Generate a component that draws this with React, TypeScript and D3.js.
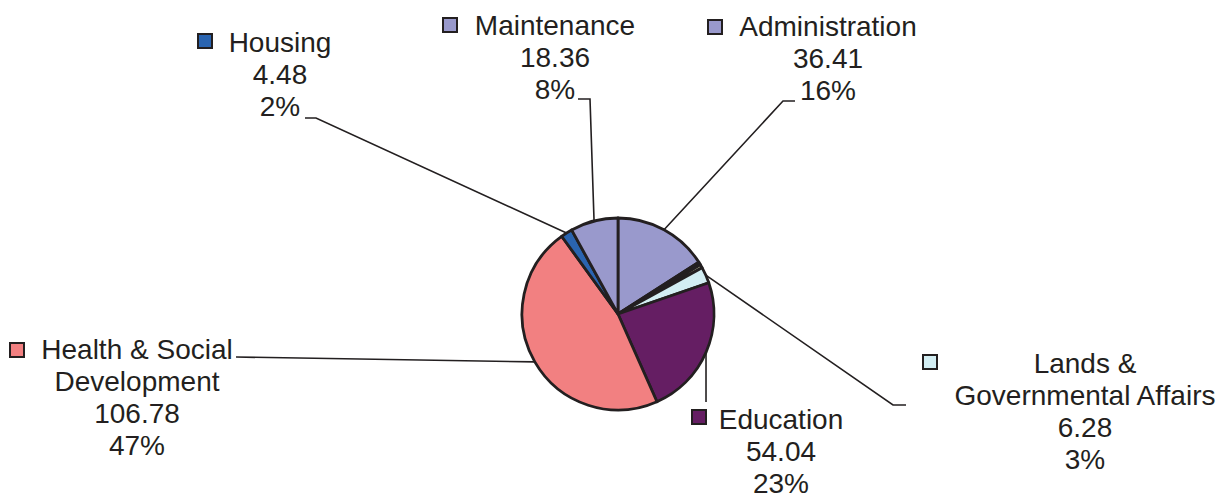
import React from "react";
import * as d3 from "d3";

// ---- data ----
const categories = [
  "Administration",
  "Unlabeled A",
  "Unlabeled B",
  "Lands & Governmental Affairs",
  "Education",
  "Health & Social Development",
  "Housing",
  "Maintenance",
];
const values = [36.41, 1.2, 1.25, 6.28, 54.04, 106.78, 4.48, 18.36];
const valueLabels = ["36.41", "", "", "6.28", "54.04", "106.78", "4.48", "18.36"];
const percentLabels = ["16%", "", "", "3%", "23%", "47%", "2%", "8%"];
const nameLines = [
  ["Administration"],
  [],
  [],
  ["Lands &", "Governmental Affairs"],
  ["Education"],
  ["Health & Social", "Development"],
  ["Housing"],
  ["Maintenance"],
];
const colors = ["#9999CC", "#231F20", "#FFFFCC", "#D3EEF3", "#651E63", "#F28081", "#2A64B0", "#9999CC"];

// ---- layout (positions / styles) ----
const W = 1223;
const H = 498;
const CX = 618;
const CY = 314;
const R = 96;
const FONT = 28;
const LINE = 32;
const INK = "#231F20";

// leader points listed from the pie outward
type Lay = { cx: number; y0: number; mx: number; my: number; leader: [number, number][]; vertical?: boolean };
const layout: (Lay | null)[] = [
  { cx: 828, y0: 36, mx: 708, my: 20, leader: [[783, 101], [795, 101]] },
  null,
  null,
  { cx: 1085, y0: 373, mx: 923, my: 355, leader: [[893, 405], [906, 405]] },
  { cx: 781, y0: 429, mx: 692, my: 410, leader: [[0, 402]], vertical: true },
  { cx: 137, y0: 359, mx: 10, my: 343, leader: [[236, 357]] },
  { cx: 280, y0: 52, mx: 198, my: 34, leader: [[316, 118], [305, 118]] },
  { cx: 555, y0: 35, mx: 443, my: 18, leader: [[590, 99], [578, 99]] },
];

export default function App() {
  const pie = d3
    .pie<number>()
    .sort(null)
    .value((d) => d)
    .startAngle(0)
    .endAngle(2 * Math.PI);
  const arcs = pie(values);
  const arc = d3.arc<d3.PieArcDatum<number>>().innerRadius(0).outerRadius(R);
  const line = d3.line();

  return (
    <div style={{ position: "absolute", left: 0, top: 0 }}>
      <svg width={W} height={H} style={{ display: "block", background: "#fff" }}>
        <g transform={`translate(${CX},${CY})`}>
          {arcs.map((a, i) => (
            <path
              key={categories[i]}
              d={arc(a) || ""}
              fill={colors[i]}
              stroke={INK}
              strokeWidth={2.8}
              strokeLinejoin="round"
            />
          ))}
        </g>
        {arcs.map((a, i) => {
          const lay = layout[i];
          if (!lay) return null;
          const mid = (a.startAngle + a.endAngle) / 2;
          const ax = CX + R * Math.sin(mid);
          const ay = CY - R * Math.cos(mid);
          const pts: [number, number][] = lay.vertical
            ? [[ax, ay], [ax, lay.leader[0][1]]]
            : [[ax, ay], ...lay.leader];
          const lines = [...nameLines[i], valueLabels[i], percentLabels[i]];
          return (
            <g key={"lab" + i}>
              <path d={line(pts) || ""} fill="none" stroke={INK} strokeWidth={1.6} />
              <rect
                x={lay.mx}
                y={lay.my}
                width={14}
                height={14}
                fill={colors[i]}
                stroke={INK}
                strokeWidth={2}
              />
              {lines.map((t, k) => (
                <text
                  key={k}
                  x={lay.cx}
                  y={lay.y0 + k * LINE}
                  textAnchor="middle"
                  fontFamily="'Liberation Sans', Arial, sans-serif"
                  fontSize={FONT}
                  fill={INK}
                >
                  {t}
                </text>
              ))}
            </g>
          );
        })}
      </svg>
    </div>
  );
}
